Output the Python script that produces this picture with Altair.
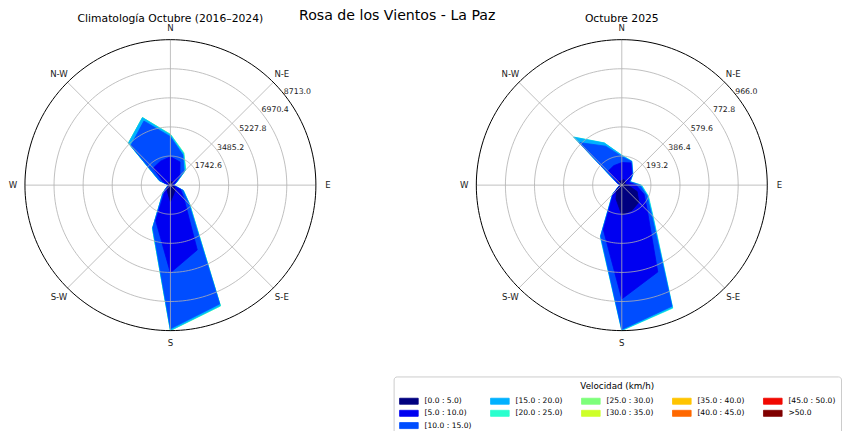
import altair as alt
import pandas as pd

# ---------------- data ----------------
DIRECTIONS = ["N", "NNE", "NE", "ENE", "E", "ESE", "SE", "SSE",
              "S", "SSW", "SW", "WSW", "W", "WNW", "NW", "NNW"]
SPEED_BINS = ["[0.0 : 5.0)", "[5.0 : 10.0)", "[10.0 : 15.0)", "[15.0 : 20.0)",
              "[20.0 : 25.0)", "[25.0 : 30.0)", "[30.0 : 35.0)", "[35.0 : 40.0)",
              "[40.0 : 45.0)", "[45.0 : 50.0)", ">50.0"]
BIN_COLORS = ["#000080", "#0000f1", "#004dff", "#00b1ff", "#29ffce", "#7dff7a",
              "#ceff29", "#ffc400", "#ff6800", "#f10800", "#800000"]

# Climatologia Octubre (2016-2024): counts per direction, one list per speed bin
CLIM_0_5 = [200, 250, 200, 100, 80, 250, 400, 550, 1000, 450, 300, 100, 60, 120, 200, 200]
CLIM_5_10 = [1500, 1250, 600, 200, 70, 400, 750, 3650, 4250, 1850, 150, 50, 20, 330, 1250, 1350]
CLIM_10_15 = [1200, 450, 350, 50, 30, 150, 400, 3500, 3350, 450, 150, 50, 20, 250, 1900, 2600]
CLIM_15_20 = [110, 90, 100, 30, 10, 30, 70, 100, 90, 50, 20, 10, 5, 30, 200, 220]
CLIM_20_25 = [30, 40, 40, 10, 5, 10, 20, 30, 20, 10, 5, 2, 1, 5, 10, 10]
CLIM_25_30 = [10, 20, 10, 2, 1, 1, 2, 5, 3, 2, 0, 0, 0, 0, 0, 0]
CLIM_TICKS = [1742.6, 3485.2, 5227.8, 6970.4, 8713.0]

# Octubre 2025
OCT_0_5 = [30, 40, 30, 25, 40, 110, 160, 180, 198, 100, 50, 15, 5, 15, 40, 30]
OCT_5_10 = [120, 120, 65, 25, 55, 50, 80, 444, 558, 220, 30, 5, 3, 10, 90, 110]
OCT_10_15 = [40, 10, 7, 8, 25, 20, 40, 246, 202, 45, 5, 2, 1, 5, 270, 140]
OCT_15_20 = [8, 2, 2, 2, 8, 8, 10, 10, 6, 5, 2, 1, 1, 2, 50, 22]
OCT_20_25 = [1, 1, 1, 1, 4, 4, 4, 4, 2, 2, 1, 0, 0, 0, 2, 2]
OCT_TICKS = [193.2, 386.4, 579.6, 772.8, 966.0]

COMPASS = ["N", "N-E", "E", "S-E", "S", "S-W", "W", "N-W"]
MAIN_TITLE = "Rosa de los Vientos - La Paz"
TITLE_CLIM = "Climatología Octubre (2016–2024)"
TITLE_OCT = "Octubre 2025"

# ---------------- layout / style ----------------
FONT = "DejaVu Sans"
R_PX = 146.0          # radius of the polar frame in pixels
PANEL_W = 320
PANEL_H = 320
LABEL_R = 1.083       # compass labels, fraction of rmax
SUBTITLE_R = 1.144    # subplot titles, fraction of rmax
TICK_BEARING = 50     # bearing of radial tick labels

LEGEND_ORDER = [0, 3, 5, 7, 9, 1, 4, 6, 8, 10, 2]   # column-major look in a 5-col grid
LEG_DOMAIN = [SPEED_BINS[i] for i in LEGEND_ORDER]
LEG_RANGE = [BIN_COLORS[i] for i in LEGEND_ORDER]

legend = alt.Legend(
    title="Velocidad (km/h)", orient="none", legendX=384, legendY=352,
    direction="horizontal", columns=5, gridAlign="all",
    columnPadding=16.3, rowPadding=1.3,
    symbolType="M-1,-0.55H2.4V0.55H-1Z", symbolSize=121,
    symbolStrokeColor="black", symbolStrokeWidth=0.8, symbolOpacity=1,
    labelFont=FONT, labelFontSize=7.6, labelColor="black", labelOffset=13.5,
    titleFont=FONT, titleFontSize=8.8, titleFontWeight="normal", titleColor="black",
    titleAnchor="middle", titlePadding=4.4,
    strokeColor="#cccccc", fillColor="white", padding=5.5, cornerRadius=3,
)
color_scale = alt.Scale(domain=LEG_DOMAIN, range=LEG_RANGE)


def panel(bin_lists, ticks, title):
    rmax = ticks[-1]
    hx = rmax * PANEL_W / (2 * R_PX)
    hy = rmax * PANEL_H / (2 * R_PX)
    sx = alt.Scale(domain=[-hx, hx], nice=False, zero=False)
    sy = alt.Scale(domain=[-hy, hy], nice=False, zero=False)
    X = alt.X("x:Q", scale=sx, axis=None)
    Y = alt.Y("y:Q", scale=sy, axis=None)

    rows = []
    cum = [0.0] * len(DIRECTIONS)
    for b, vals in enumerate(bin_lists):
        cum = [c + v for c, v in zip(cum, vals)]
        for i in range(len(DIRECTIONS)):
            rows.append({"bin": SPEED_BINS[b], "layer": b, "i": i,
                         "bearing": i * 360.0 / len(DIRECTIONS), "r": cum[i]})
    df = pd.DataFrame(rows)

    polar = dict(x="datum.r*sin(datum.bearing*PI/180)",
                 y="datum.r*cos(datum.bearing*PI/180)")

    layers = []
    for b in reversed(range(len(bin_lists))):
        layers.append(
            alt.Chart(df).transform_filter(alt.datum.layer == b)
            .transform_calculate(**polar)
            .mark_line(filled=True, interpolate="linear-closed", strokeWidth=0.8)
            .encode(x=X, y=Y, order="i:Q",
                    color=alt.Color("bin:N", scale=color_scale, legend=legend),
                    stroke=alt.Stroke("bin:N", scale=color_scale, legend=None))
        )

    # grid rings
    ring_rows = [{"r": t, "bearing": a, "outer": t == rmax}
                 for t in ticks for a in range(0, 360, 2)]
    rings = pd.DataFrame(ring_rows)
    layers.append(
        alt.Chart(rings).transform_filter("!datum.outer").transform_calculate(**polar)
        .mark_line(interpolate="linear-closed", color="#b0b0b0", strokeWidth=0.8)
        .encode(x=X, y=Y, order="bearing:Q", detail="r:Q")
    )
    # spokes
    spokes = pd.DataFrame({"bearing": [i * 45 for i in range(8)], "r": [rmax] * 8})
    layers.append(
        alt.Chart(spokes).transform_calculate(x0="0", y0="0", **polar)
        .mark_rule(color="#b0b0b0", strokeWidth=0.8)
        .encode(x=alt.X("x0:Q", scale=sx, axis=None),
                y=alt.Y("y0:Q", scale=sy, axis=None), x2="x:Q", y2="y:Q")
    )
    # outer frame
    layers.append(
        alt.Chart(rings).transform_filter("datum.outer").transform_calculate(**polar)
        .mark_line(interpolate="linear-closed", color="black", strokeWidth=1)
        .encode(x=X, y=Y, order="bearing:Q")
    )
    # compass labels
    comp = pd.DataFrame({"label": COMPASS, "bearing": [i * 45 for i in range(8)]})
    layers.append(
        alt.Chart(comp).transform_calculate(
            x=f"{LABEL_R * rmax}*sin(datum.bearing*PI/180)",
            y=f"{LABEL_R * rmax}*cos(datum.bearing*PI/180)")
        .mark_text(font=FONT, fontSize=8.6, color="#1a1a1a", align="center", baseline="middle")
        .encode(x=X, y=Y, text="label:N")
    )
    # radial tick labels
    tk = pd.DataFrame({"r": ticks})
    layers.append(
        alt.Chart(tk).transform_calculate(
            x=f"datum.r*sin({TICK_BEARING}*PI/180)",
            y=f"datum.r*cos({TICK_BEARING}*PI/180)",
            txt="format(datum.r, '.1f')")
        .mark_text(font=FONT, fontSize=7.8, color="#1a1a1a", align="left", baseline="middle", dx=2)
        .encode(x=X, y=Y, text="txt:N")
    )
    # subplot title
    tt = pd.DataFrame({"t": [title]})
    layers.append(
        alt.Chart(tt).transform_calculate(x="0", y=f"{SUBTITLE_R * rmax}")
        .mark_text(font=FONT, fontSize=10.8, color="black", align="center", baseline="middle")
        .encode(x=X, y=Y, text="t:N")
    )
    return alt.layer(*layers).properties(width=PANEL_W, height=PANEL_H)


left = panel([CLIM_0_5, CLIM_5_10, CLIM_10_15, CLIM_15_20, CLIM_20_25, CLIM_25_30],
             CLIM_TICKS, TITLE_CLIM)
right = panel([OCT_0_5, OCT_5_10, OCT_10_15, OCT_15_20, OCT_20_25], OCT_TICKS, TITLE_OCT)

chart = alt.hconcat(left, right, spacing=133, bounds="flush").properties(
    title=alt.TitleParams(MAIN_TITLE, font=FONT, fontSize=14.2, fontWeight="normal",
                          color="black", anchor="middle",
                          offset=-16.8, dy=-6, dx=-28),
    padding={"left": 0, "top": 0, "right": 0, "bottom": 0},
).configure(font=FONT, view=alt.ViewConfig(strokeWidth=0, stroke=None))

chart.save("out.html", embed_options={"renderer": "svg", "actions": False})
